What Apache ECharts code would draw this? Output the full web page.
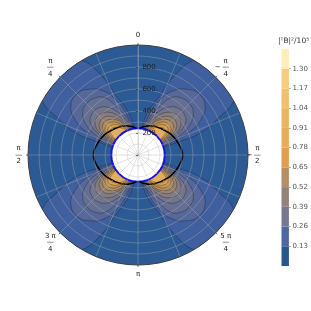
<!DOCTYPE html>
<html><head><meta charset="utf-8">
<style>html,body{margin:0;padding:0;background:#fff}#c{width:311px;height:311px}</style>
<script src="https://cdn.jsdelivr.net/npm/echarts@6/dist/echarts.min.js"></script>
</head><body><div id="c"></div>
<script>
// contours of one lobe, [radius, angle in degrees]; the other three lobes are its mirror images
const level013 = [[235,6],[245,7],[400,13],[564,20],[806,25],[1010,31],[1100,38],[1100,52],[1010,60],[818,65],[591,70.5],[366,72],[241,74],[235,74]];
const level026 = [[235,11],[241,11.6],[394,16.1],[538,21.8],[667,28.8],[743,36.5],[784,44.4],[760,53.3],[668,60],[518,65.8],[343,69.3],[242,71.8],[235,72]];
const level039 = [[235,13],[370,18],[480,24],[600,30],[650,37],[660,45],[630,53],[540,60],[420,65],[320,67],[235,68]];
const level052 = [[235,15],[350,20],[440,26],[520,33],[560,41],[560,49],[520,56],[430,61],[340,64],[235,65]];
const level065 = [[235,17],[330,22],[410,28],[475,35],[505,43],[500,50],[465,56],[395,60],[320,62],[235,63]];
const level078 = [[235,19],[320,24],[385,30],[440,37],[462,44],[455,50],[425,55],[370,59],[305,60.5],[235,61]];
const level091 = [[235,20],[310,25],[370,31],[410,38],[427,44],[420,50],[395,54],[345,57.5],[295,59],[235,59.5]];
const level104 = [[235,22],[300,27],[350,33],[385,39],[397,45],[390,50],[365,54],[325,56.5],[280,57.5],[235,58]];
const level117 = [[235,24],[295,29],[335,35],[360,41],[367,46],[358,50],[335,53],[305,55],[270,56],[235,56]];
const level130 = [[235,26],[285,31],[315,37],[335,42],[340,46],[333,50],[312,52],[285,53.5],[235,54]];
const contours = [level013,level026,level039,level052,level065,level078,level091,level104,level117,level130];
// thick curve on the right side, mirrored to the left
const thickCurve = [[243,4],[262,11],[298,28],[345,54],[382,74],[406,90],[382,106],[345,126],[298,152],[262,169],[243,176]];
const innerRadius = [243];
const outerRadius = [1000];
const bandColors = ['#26578f','#4f68a2','#767791','#93817a','#b68e63','#e09e4f','#e8ab5b','#ebb463','#f0c070','#f6cd80','#fdeeb9'];
const plotColors = ['#2b5a94','#3f5f9f','#566899','#656f93','#73768c','#837c80','#988472','#b08c60','#c79552','#daa24e','#e6ae58'];
const bandWidth = [0.13,0.13,0.13,0.13,0.13,0.13,0.13,0.13,0.13,0.13,0.13];
const colorbarTicks = [0.13,0.26,0.39,0.52,0.65,0.78,0.91,1.04,1.17,1.30];
const angleTickValues = [0,45,90,135,180,225,270,315];
const angleTickLabels = ['0','π\n—\n4','π\n—\n2','5 π\n—\n4','π','3 π\n—\n4','π\n—\n2','π\n—\n4'];
const angleTickSigns = ['','−','−','','','','',''];
const radiusTickLabels = {200:'200.',400:'400.',600:'600.',800:'800.'};
const labelRadius = [1085,1127];
const colorbarTitle = '|ᵀB|²/10⁵';

const mirrors = [a=>a, a=>360-a, a=>180-a, a=>180+a];
function poly(points, api, mirror){return points.map(p=>api.coord([p[0],mirror(p[1])]));}
function clipFor(params){const s=params.coordSys;return {type:'circle',shape:{cx:s.cx,cy:s.cy,r:s.r}};}
function disc(api,radius,style){
  const c=api.coord([0,0]),e=api.coord([radius,0]);
  return {type:'circle',shape:{cx:c[0],cy:c[1],r:Math.abs(c[1]-e[1])},style};
}
const labelFont={font:'7px "DejaVu Sans"',fill:'#222',align:'center',verticalAlign:'middle',lineHeight:6.5};

const series = [];
series.push({type:'custom',coordinateSystem:'polar',polarIndex:0,z:2,silent:true,data:[[outerRadius[0],0]],
  renderItem(params,api){return disc(api,outerRadius[0],{fill:plotColors[0]});}});
contours.forEach((pts,i)=>{
  series.push({type:'custom',coordinateSystem:'polar',polarIndex:0,z:3+i,silent:true,data:pts,
    renderItem(params,api){
      if(params.dataIndex!==0) return null;
      return {type:'group',children:mirrors.map(m=>({type:'polygon',clipPath:clipFor(params),
        shape:{points:poly(pts,api,m),smooth:0.5},
        style:{fill:plotColors[i+1],stroke:'rgba(20,20,30,0.55)',lineWidth:0.6}}))};
    }});
});
series.push({type:'custom',coordinateSystem:'polar',polarIndex:0,z:20,silent:true,data:[[innerRadius[0],0]],
  renderItem(params,api){return disc(api,innerRadius[0],{fill:'#fff',stroke:'#1414e6',lineWidth:2});}});
series.push({type:'custom',coordinateSystem:'polar',polarIndex:0,z:21,silent:true,data:thickCurve,
  renderItem(params,api){
    if(params.dataIndex!==0) return null;
    return {type:'group',children:[a=>a,a=>360-a].map(m=>({type:'polyline',
      shape:{points:poly(thickCurve,api,m),smooth:0.4},style:{fill:'none',stroke:'#000',lineWidth:1.5}}))};
  }});
series.push({type:'custom',coordinateSystem:'polar',polarIndex:0,z:45,silent:true,clip:false,
  data:angleTickValues.map(a=>[labelRadius[a%90?1:0],a]),
  renderItem(params,api){
    const i=params.dataIndex, a=angleTickValues[i], p=api.coord([labelRadius[a%90?1:0],a]);
    const kids=[{type:'text',style:Object.assign({x:p[0],y:p[1],text:angleTickLabels[i]},labelFont)}];
    if(angleTickSigns[i]) kids.push({type:'text',style:Object.assign({x:p[0]-8,y:p[1],text:angleTickSigns[i]},labelFont)});
    return {type:'group',children:kids};
  }});
bandColors.forEach((col,i)=>{
  series.push({type:'bar',xAxisIndex:0,yAxisIndex:0,stack:'bar',barWidth:'100%',silent:true,
    data:[bandWidth[i]],itemStyle:{color:col}});
});

const grid='rgba(178,178,178,0.42)';
const chart=echarts.init(document.getElementById('c'),null,{renderer:'canvas'});
chart.setOption({
  animation:false,backgroundColor:'#fff',
  polar:{center:[138,155],radius:110},
  angleAxis:{type:'value',min:0,max:360,interval:45,startAngle:90,clockwise:true,z:40,
    axisLine:{show:true,lineStyle:{color:'#222',width:0.8}},
    axisTick:{show:true,length:2,lineStyle:{color:'#333',width:0.7}},
    minorTick:{show:false,splitNumber:2},
    splitLine:{show:true,lineStyle:{color:grid,width:0.9}},
    minorSplitLine:{show:true,lineStyle:{color:grid,width:0.9}},
    axisLabel:{show:false}},
  radiusAxis:{type:'value',min:0,max:1000,interval:200,z:40,
    axisLine:{show:true,lineStyle:{color:grid,width:0.9}},
    axisTick:{show:true,length:2,inside:true,lineStyle:{color:'#333',width:0.7}},
    minorTick:{show:false,splitNumber:2},
    splitLine:{show:true,lineStyle:{color:grid,width:0.9}},
    minorSplitLine:{show:true,lineStyle:{color:grid,width:0.9}},
    axisLabel:{margin:-20,fontFamily:'DejaVu Sans',fontSize:7,color:'#222',formatter:v=>radiusTickLabels[v]||''}},
  grid:{left:281.5,width:7.5,top:49,height:217,containLabel:false},
  xAxis:{type:'category',data:[''],show:false},
  yAxis:{type:'value',position:'right',min:0,max:1.43,interval:0.13,
    axisLine:{show:false},splitLine:{show:false},
    axisTick:{show:true,length:2,customValues:colorbarTicks,lineStyle:{color:'#888',width:0.7}},
    axisLabel:{margin:3.5,fontFamily:'DejaVu Sans',fontSize:7,color:'#555',customValues:colorbarTicks,
      formatter:v=>v.toFixed(2)}},
  title:{text:colorbarTitle,left:273,top:32,textStyle:{fontFamily:'DejaVu Sans',fontSize:7.5,fontWeight:'normal',color:'#333'}},
  series
});
</script></body></html>
